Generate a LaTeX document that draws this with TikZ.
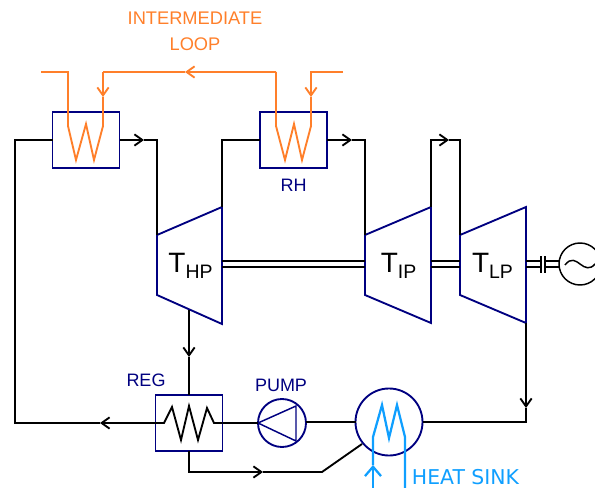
\documentclass[tikz,border=0pt]{standalone}
\usepackage{fontspec}
\setmainfont{Liberation Sans}
\newfontfamily\sinkfont{DejaVu Sans}
\usetikzlibrary{calc}
\usetikzlibrary{arrows.meta}
\definecolor{unit}{HTML}{000080}
\definecolor{loop}{HTML}{FF7F2A}
\definecolor{sink}{HTML}{0F9FFF}
\newcommand{\turbname}[1]{T{\fontsize{14.6}{15}\selectfont\raisebox{-4.3pt}{#1}}}
\tikzset{
    flow/.style={-{Straight Barb[length=6pt,width=8.5pt]}},
    sinkflow/.style={-{Straight Barb[length=7pt,width=12pt]}},
    pipe/.style={line width=1.4pt,line join=miter},
    unitbox/.style={draw=unit,line width=1.4pt,rectangle,minimum width=50.25pt,minimum height=42.5pt,inner sep=0pt,outer sep=0pt},
    unitround/.style={draw=unit,line width=1.4pt,circle,inner sep=0pt,outer sep=0pt},
    tag/.style={text=unit,font=\fontsize{13.5}{15}\selectfont,inner sep=0pt},
    looptag/.style={text=loop,font=\fontsize{13.7}{15}\selectfont,inner sep=0pt},
    turbname/.style={font=\fontsize{21}{24}\selectfont,inner sep=0pt}
}
\begin{document}
\begin{tikzpicture}[x=0.75pt,y=-0.75pt,pipe]
    \useasboundingbox (0,0) rectangle (595,488);
    \clip (0,0) rectangle (595,488);
    % units
    \node[unitbox] (hxa) at (86,140) {};
    \node[unitbox] (rh) at (293.5,140) {};
    \node[unitbox] (reg) at (189,423) {};
    \node[unitround,minimum size=36pt] (pump) at (282,423) {};
    \node[unitround,minimum size=50.25pt] (cond) at (389,422) {};
    \node[draw=black,line width=1.1pt,circle,inner sep=0pt,outer sep=0pt,minimum size=31.5pt] (gen) at (580,264) {};
    \draw[draw=unit] (157,235) coordinate (hpa) -- (222,207) coordinate (hpb) -- (222,324) coordinate (hpc) -- (157,295) coordinate (hpd) -- cycle;
    \draw[draw=unit] (365,235) coordinate (ipa) -- (431,207) coordinate (ipb) -- (431,323) coordinate (ipc) -- (365,295) coordinate (ipd) -- cycle;
    \draw[draw=unit] (460,235) coordinate (lpa) -- (526,207) coordinate (lpb) -- (526,323) coordinate (lpc) -- (460,295) coordinate (lpd) -- cycle;
    \draw[draw=unit,line width=1.1pt] (pump.west) -- (296,406) -- (296,441) -- cycle;
    % steam
    \coordinate (hxaout) at (144,140);
    \coordinate (rhout) at (352,140);
    \coordinate (ipout) at (449,140);
    \coordinate (hpout) at ($(hpd)!0.5!(hpc)$);
    \coordinate (hpflow) at (189,357);
    \coordinate (lpflow) at (526,408);
    \coordinate (regflow) at (263,472);
    \coordinate (backflow) at (100,423);
    \coordinate (backa) at (15,423);
    \coordinate (backb) at (15,140);
    \coordinate (regbend) at (322,472);
    \coordinate (condin) at (362,444);
    \draw[flow] (hxa.east) -- (hxaout);
    \draw (hxaout) -| (hpa);
    \draw (rh.west) -| (hpb);
    \draw[flow] (rh.east) -- (rhout);
    \draw (rhout) -| (ipa);
    \draw[flow] (ipb) |- (ipout);
    \draw (ipout) -| (lpa);
    \draw[flow] (hpflow |- hpout) -- (hpflow);
    \draw (hpflow) -- (reg.north);
    \draw[flow] (reg.west) -- (backflow);
    \draw (backflow) -- (backa) -- (backb) -- (hxa.west);
    \draw (reg.east) -- (pump.west);
    \draw (pump.east |- cond.west) -- (cond.west);
    \draw[flow] (lpc) -- (lpflow);
    \draw (lpflow) |- (cond.east);
    \draw[flow] (reg.south) |- (regflow);
    \draw (regflow) -- (regbend) -- (condin);
    \draw (reg.west) -- (164,423) -- (172,407) -- (181,440) -- (189,406) -- (198,440) -- (207,408) -- (214,423) -- (reg.east);
    % shafts
    \foreach \shafty in {261,267} {
      \draw (hpb |- 0,\shafty) -- (ipa |- 0,\shafty);
      \draw (ipb |- 0,\shafty) -- (lpa |- 0,\shafty);
      \draw (lpb |- 0,\shafty) -- (541,\shafty);
      \draw (545,\shafty) -- (gen.west |- 0,\shafty);
    }
    \draw (541,256) -- (541,273);
    \draw (545,256) -- (545,273);
    \draw[line width=1.1pt] (565,265) .. controls (571,257) and (576,261) .. (580,264) .. controls (585,268) and (590,270) .. (595,264);
    % intermediate loop
    \begin{scope}[draw=loop]
      \coordinate (loopa) at (41,72);
      \coordinate (loopb) at (343,72);
      \coordinate (loopc) at (276,72);
      \coordinate (loopd) at (103,72);
      \coordinate (loopflow) at (185,72);
      \draw (loopa) -| (68,126) -- (76,160) -- (86,124) -- (94,160) -- (103,126) -- (103,97);
      \draw[flow] (loopd) -- (103,97);
      \draw[flow] (loopc) -- (loopflow);
      \draw (loopflow) -- (loopd);
      \draw (loopc) -- (276,126) -- (285,160) -- (294,124) -- (302,160) -- (311,126) -- (311,97);
      \draw[flow] (loopb) -| (311,97);
    \end{scope}
    % heat sink
    \begin{scope}[draw=sink,line width=1.7pt]
      \coordinate (sinka) at (373,488);
      \coordinate (sinkb) at (405,488);
      \draw (373,465) -- (373,437) -- (382,405) -- (389,438) -- (397,405) -- (405,437) -- (sinkb);
      \draw[sinkflow] (sinka) -- (373,465);
    \end{scope}
    % labels
    \node[turbname] (thp) at (190.5,266) {\turbname{HP}};
    \node[turbname] (tip) at (398.5,266) {\turbname{IP}};
    \node[turbname] (tlp) at (492.5,266) {\turbname{LP}};
    \node[tag] (rhname) at (293.5,185) {RH};
    \node[tag] (regname) at (146,380) {REG};
    \node[tag] (pumpname) at (281,385) {PUMP};
    \node[looptag] (loopname) at (195,18) {INTERMEDIATE};
    \node[looptag] (loopnameb) at (195,44) {LOOP};
    \node[text=sink,font=\sinkfont\fontsize{15.3}{18}\selectfont,inner sep=0pt] (sinkname) at (465.5,477) {HEAT SINK};
\end{tikzpicture}
\end{document}
